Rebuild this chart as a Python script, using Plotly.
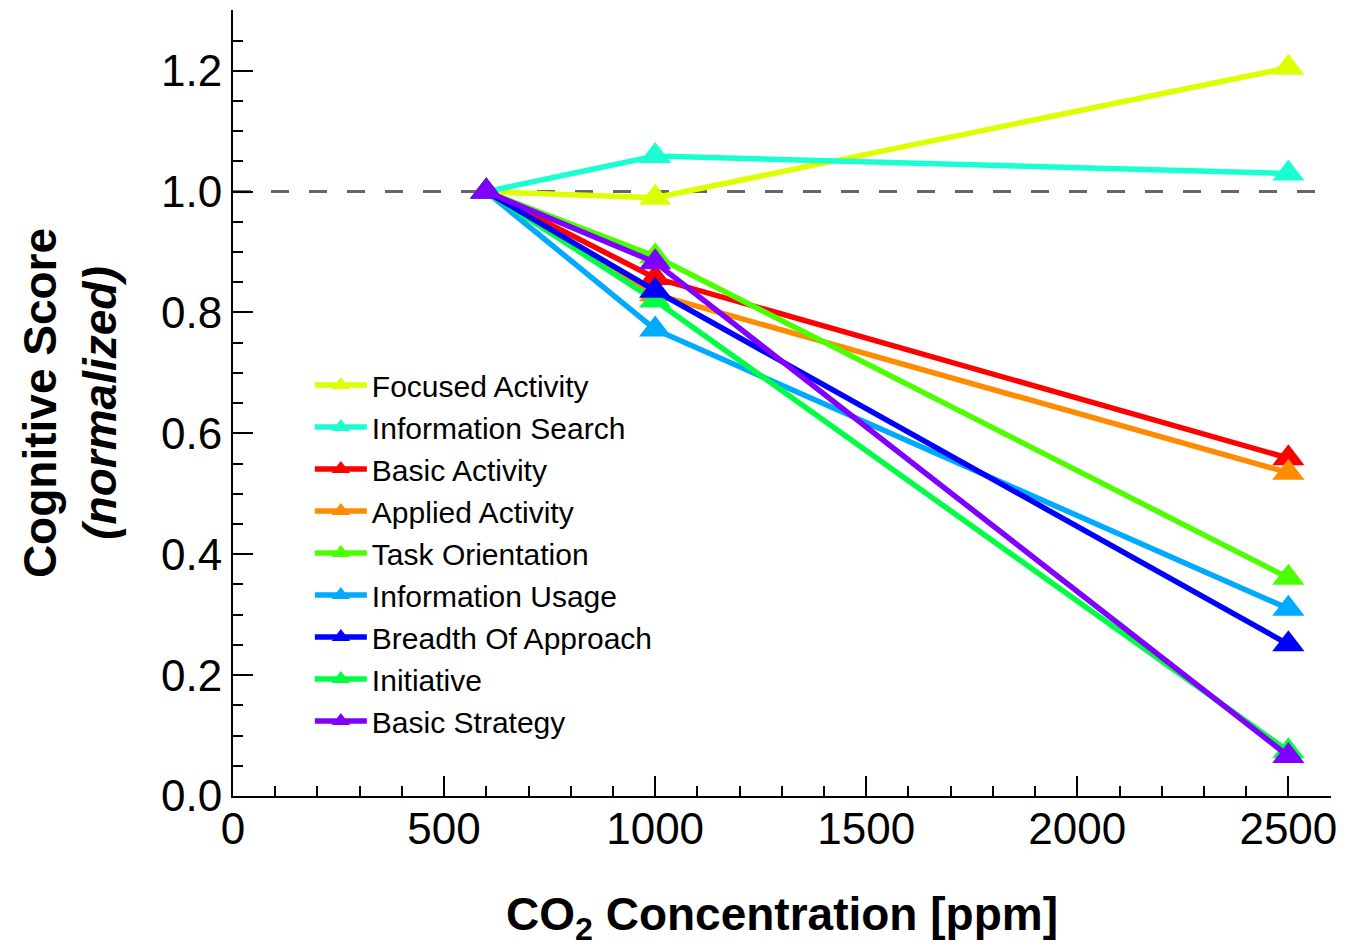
import plotly.graph_objects as go

co2_ppm = [600, 1000, 2500]

series_names = [
    "Focused Activity", "Information Search", "Basic Activity", "Applied Activity",
    "Task Orientation", "Information Usage", "Breadth Of Approach", "Initiative", "Basic Strategy",
]
focused_activity = [1.0, 0.99, 1.205]
information_search = [1.0, 1.059, 1.03]
basic_activity = [1.0, 0.857, 0.559]
applied_activity = [1.0, 0.83, 0.535]
task_orientation = [1.0, 0.893, 0.361]
information_usage = [1.0, 0.772, 0.31]
breadth_of_approach = [1.0, 0.836, 0.251]
initiative = [1.0, 0.82, 0.074]
basic_strategy = [1.0, 0.883, 0.066]

series_values = [
    focused_activity, information_search, basic_activity, applied_activity,
    task_orientation, information_usage, breadth_of_approach, initiative, basic_strategy,
]
series_colors = [
    "#DDFF00", "#19FFD1", "#FF0000", "#FF8C00",
    "#4CFF00", "#00AAFF", "#0000FF", "#00FF44", "#8000FF",
]
# drawing order (Initiative drawn beneath Breadth Of Approach)
draw_order = [0, 1, 2, 3, 4, 5, 7, 6, 8]

x_tick_vals = [0, 500, 1000, 1500, 2000, 2500]
x_tick_text = ["0", "500", "1000", "1500", "2000", "2500"]
y_tick_vals = [0.0, 0.2, 0.4, 0.6, 0.8, 1.0, 1.2]

FONT = "Liberation Sans, Arial, Helvetica, sans-serif"

fig = go.Figure()
for i in draw_order:
    fig.add_trace(go.Scatter(
        x=co2_ppm, y=series_values[i], name=series_names[i],
        mode="lines+markers",
        line=dict(color=series_colors[i], width=5.5),
        marker=dict(symbol="triangle-up", size=28, color=series_colors[i]),
        legendrank=i + 1,
        cliponaxis=False,
    ))

fig.add_shape(type="line", xref="x", yref="y", x0=0, x1=2600, y0=1.0, y1=1.0,
              line=dict(color="#666666", width=3, dash="18px,20px"), layer="below")

# page body has an 8px default margin, so the figure is 8px smaller and margins shifted
fig.update_layout(
    width=1355, height=939,
    margin=dict(l=225, r=32, t=2, b=149),
    paper_bgcolor="white", plot_bgcolor="white",
    font=dict(family=FONT, color="black"),
    showlegend=True,
    legend=dict(
        x=0.070, y=0.556, xanchor="left", yanchor="top",
        bgcolor="rgba(0,0,0,0)", font=dict(size=30, family=FONT, color="black"),
        itemwidth=52, tracegroupgap=0,
    ),
    xaxis=dict(
        range=[0, 2601], tickvals=x_tick_vals, ticktext=x_tick_text,
        ticks="inside", ticklen=20, tickwidth=2, tickcolor="black",
        showline=True, linecolor="black", linewidth=2, mirror=False,
        showgrid=False, zeroline=False, ticklabelstandoff=-7,
        tickfont=dict(size=44, family=FONT, color="black"),
        minor=dict(dtick=100, tick0=0, ticks="inside", ticklen=10, tickwidth=2,
                   tickcolor="black", showgrid=False),
        title=dict(text="<b>CO<sub>2</sub> Concentration [ppm]</b>",
                   font=dict(size=46, family=FONT, color="black"), standoff=60),
    ),
    yaxis=dict(
        range=[0, 1.3005], tickvals=y_tick_vals, tickformat=".1f",
        ticks="inside", ticklen=20, tickwidth=2, tickcolor="black",
        showline=True, linecolor="black", linewidth=2, mirror=False,
        showgrid=False, zeroline=False,
        tickfont=dict(size=44, family=FONT, color="black"),
        minor=dict(dtick=0.05, tick0=0, ticks="inside", ticklen=10, tickwidth=2,
                   tickcolor="black", showgrid=False),
        title=dict(text="<b>Cognitive Score</b><br><b><i>(normalized)</i></b>",
                   font=dict(size=46, family=FONT, color="black"), standoff=30),
    ),
)

fig.write_html("out.html")
